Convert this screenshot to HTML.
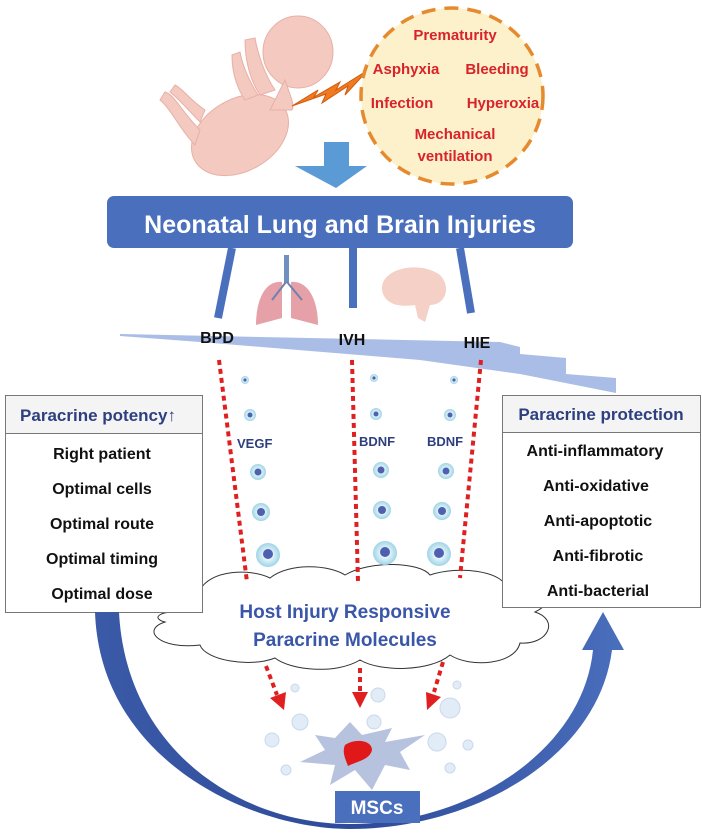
<!DOCTYPE html>
<html><head><meta charset="utf-8"><style>
html,body{margin:0;padding:0;background:#fff;}
svg{display:block;font-family:"Liberation Sans",sans-serif;}
.r{fill:#d8232a;font-weight:bold;font-size:15px;}
.k{fill:#111;font-weight:bold;font-size:16px;}
</style></head><body>
<svg width="702" height="835" viewBox="0 0 702 835" xmlns="http://www.w3.org/2000/svg">
<!-- fetus -->
<g fill="#f3c9c0" stroke="#e8b0a6" stroke-width="1">
<ellipse cx="298" cy="52" rx="35" ry="36"/>
<ellipse cx="240" cy="135" rx="52" ry="36" transform="rotate(-30 240 135)"/>
<path d="M200,130 C180,110 175,95 165,92 L160,100 C172,110 180,130 195,145 Z"/>
<path d="M205,110 C190,100 182,88 175,85 L170,92 C180,100 190,112 200,122 Z"/>
<path d="M260,95 C250,80 245,60 245,40 L255,38 C258,55 265,75 275,90 Z"/>
<path d="M245,100 C235,85 232,70 232,55 L240,52 C243,68 250,82 258,95 Z"/>
<path d="M285,80 C290,95 295,105 292,110 L270,110 Z"/>
</g>
<!-- lightning -->
<polygon points="292,106 318,90 314,97 340,82 336,90 368,70 345,95 348,86 322,103 326,94" fill="#f07a20" stroke="#d05a10" stroke-width="1"/>
<!-- circle -->
<ellipse cx="452" cy="96" rx="91" ry="88" fill="#fdf1cc" stroke="#e58a2e" stroke-width="3.5" stroke-dasharray="14 9"/>
<text class="r" x="455" y="40" text-anchor="middle">Prematurity</text>
<text class="r" x="406" y="74" text-anchor="middle">Asphyxia</text>
<text class="r" x="497" y="74" text-anchor="middle">Bleeding</text>
<text class="r" x="402" y="108" text-anchor="middle">Infection</text>
<text class="r" x="503" y="108" text-anchor="middle">Hyperoxia</text>
<text class="r" x="455" y="139" text-anchor="middle">Mechanical</text>
<text class="r" x="455" y="161" text-anchor="middle">ventilation</text>
<!-- down arrow -->
<polygon points="324,142 349,142 349,166 367,166 336,188 295,166 324,166" fill="#5b9bd5"/>
<!-- banner -->
<rect x="107" y="196" width="466" height="52" rx="7" fill="#4a6fbd"/>
<text x="340" y="233" text-anchor="middle" fill="#fff" font-weight="bold" font-size="25">Neonatal Lung and Brain Injuries</text>
<!-- legs -->
<g stroke="#4a6fbd" stroke-width="8"><line x1="232" y1="248" x2="218" y2="318"/><line x1="353" y1="248" x2="353" y2="308"/><line x1="460" y1="248" x2="471" y2="313"/></g>
<!-- lung -->
<g><rect x="284" y="255" width="5" height="28" fill="#7090c0"/>
<path d="M282,282 C265,280 256,300 256,325 L282,318 Z" fill="#e6a0a8"/>
<path d="M291,282 C308,280 318,300 318,325 L291,318 Z" fill="#e6a0a8"/>
<path d="M286,282 L272,300 M287,282 L302,300" stroke="#7080b0" stroke-width="2"/></g>
<!-- brain -->
<path d="M382,290 C380,268 420,260 440,275 C452,288 445,305 430,305 L425,322 L418,318 L415,305 C395,308 384,302 382,290Z" fill="#f4d0c6"/>
<!-- wedge -->
<polygon points="120,334 500,342 520,347 520,354 566,358 566,374 616,378 616,393 520,374 420,360 200,342 120,336" fill="#a9bde6"/>
<text class="k" x="217" y="343" text-anchor="middle" font-size="23">BPD</text>
<text class="k" x="352" y="345" text-anchor="middle" font-size="23">IVH</text>
<text class="k" x="477" y="348" text-anchor="middle" font-size="23">HIE</text>
<!-- cloud -->
<path d="M185,612 C150,605 155,585 200,590 C210,570 250,568 270,578 C290,562 330,565 345,575 C370,560 420,562 430,575 C460,565 500,572 505,585 C540,585 560,600 535,612 C560,620 548,645 520,643 C515,665 470,668 450,655 C430,672 380,672 360,660 C335,675 290,670 275,658 C250,668 205,660 200,645 C160,650 140,630 165,622 C150,618 160,610 185,612 Z" fill="#fff" stroke="#333" stroke-width="1"/>
<text x="345" y="618" text-anchor="middle" fill="#3a56a8" font-weight="bold" font-size="19">Host Injury Responsive</text>
<text x="345" y="646" text-anchor="middle" fill="#3a56a8" font-weight="bold" font-size="19">Paracrine Molecules</text>
<!-- red dotted -->
<g stroke="#e02020" stroke-width="4" stroke-dasharray="5 4" fill="none">
<line x1="219" y1="360" x2="247" y2="582"/><line x1="352" y1="360" x2="358" y2="582"/><line x1="481" y1="360" x2="460" y2="578"/>
<line x1="266" y1="666" x2="277" y2="695"/><line x1="360" y1="668" x2="360" y2="693"/><line x1="443" y1="662" x2="434" y2="692"/>
</g>
<g fill="#e02020"><polygon points="270,698 286,692 284,710"/><polygon points="352,692 368,692 360,708"/><polygon points="426,692 441,697 427,710"/></g>
<!-- cells -->
<defs><radialGradient id="c"><stop offset="0.35" stop-color="#e8f7fb"/><stop offset="1" stop-color="#9fd4e6"/></radialGradient></defs>
<g>
<circle cx="245" cy="380" r="4" fill="url(#c)"/><circle cx="245" cy="380" r="1.6" fill="#5060b0"/>
<circle cx="374" cy="378" r="4" fill="url(#c)"/><circle cx="374" cy="378" r="1.6" fill="#5060b0"/>
<circle cx="454" cy="380" r="4" fill="url(#c)"/><circle cx="454" cy="380" r="1.6" fill="#5060b0"/>
<circle cx="250" cy="415" r="6" fill="url(#c)"/><circle cx="250" cy="415" r="2.5" fill="#5060b0"/>
<circle cx="376" cy="414" r="6" fill="url(#c)"/><circle cx="376" cy="414" r="2.5" fill="#5060b0"/>
<circle cx="450" cy="415" r="6" fill="url(#c)"/><circle cx="450" cy="415" r="2.5" fill="#5060b0"/>
<circle cx="258" cy="472" r="8" fill="url(#c)"/><circle cx="258" cy="472" r="3.5" fill="#5060b0"/>
<circle cx="381" cy="470" r="8" fill="url(#c)"/><circle cx="381" cy="470" r="3.5" fill="#5060b0"/>
<circle cx="446" cy="471" r="8" fill="url(#c)"/><circle cx="446" cy="471" r="3.5" fill="#5060b0"/>
<circle cx="261" cy="512" r="9" fill="url(#c)"/><circle cx="261" cy="512" r="4" fill="#5060b0"/>
<circle cx="382" cy="510" r="9" fill="url(#c)"/><circle cx="382" cy="510" r="4" fill="#5060b0"/>
<circle cx="442" cy="511" r="9" fill="url(#c)"/><circle cx="442" cy="511" r="4" fill="#5060b0"/>
<circle cx="268" cy="555" r="12" fill="url(#c)"/><circle cx="268" cy="554" r="5" fill="#5060b0"/>
<circle cx="385" cy="553" r="12" fill="url(#c)"/><circle cx="385" cy="552" r="5" fill="#5060b0"/>
<circle cx="439" cy="554" r="12" fill="url(#c)"/><circle cx="439" cy="553" r="5" fill="#5060b0"/>
</g>
<g fill="#2e3f80" font-weight="bold" font-size="13"><text x="237" y="448">VEGF</text><text x="359" y="446">BDNF</text><text x="427" y="446">BDNF</text></g>
<!-- left box -->
<rect x="5.5" y="395.5" width="197" height="217" fill="#fff" stroke="#777"/>
<rect x="6" y="396" width="196" height="37" fill="#f4f4f4"/>
<line x1="6" y1="433.5" x2="202" y2="433.5" stroke="#777"/>
<text x="98" y="421" text-anchor="middle" fill="#2e3f80" font-weight="bold" font-size="17">Paracrine potency↑</text>
<g class="k" text-anchor="middle"><text x="102" y="459">Right patient</text><text x="102" y="494">Optimal cells</text><text x="102" y="529">Optimal route</text><text x="102" y="564">Optimal timing</text><text x="102" y="599">Optimal dose</text></g>
<!-- right box -->
<rect x="502.5" y="395.5" width="198" height="212" fill="#fff" stroke="#777"/>
<rect x="503" y="396" width="197" height="36" fill="#f4f4f4"/>
<line x1="503" y1="432.5" x2="700" y2="432.5" stroke="#777"/>
<text x="601" y="420" text-anchor="middle" fill="#2e3f80" font-weight="bold" font-size="17">Paracrine protection</text>
<g class="k" text-anchor="middle"><text x="595" y="456">Anti-inflammatory</text><text x="596" y="491">Anti-oxidative</text><text x="598" y="526">Anti-apoptotic</text><text x="598" y="561">Anti-fibrotic</text><text x="598" y="596">Anti-bacterial</text></g>
<!-- arc -->
<defs><linearGradient id="a" x1="0" x2="1"><stop offset="0" stop-color="#3a5aa8"/><stop offset="0.5" stop-color="#2e4a98"/><stop offset="1" stop-color="#4a6fbd"/></linearGradient></defs>
<path d="M95,612 C100,760 250,829 350,829 C470,829 598,760 612,650 L624,650 L603,612 L582,650 L593,650 C583,750 470,824 350,824 C240,824 126,750 119,612 Z" fill="url(#a)"/>
<!-- bubbles -->
<g fill="#e2ecf7" stroke="#c8d8ec" stroke-width="1">
<circle cx="295" cy="688" r="4"/><circle cx="378" cy="695" r="7"/><circle cx="457" cy="685" r="4"/><circle cx="300" cy="722" r="8"/><circle cx="374" cy="722" r="7"/><circle cx="450" cy="708" r="10"/><circle cx="272" cy="740" r="7"/><circle cx="437" cy="742" r="9"/><circle cx="468" cy="745" r="5"/><circle cx="286" cy="770" r="5"/><circle cx="450" cy="768" r="5"/>
</g>
<!-- MSC -->
<path d="M315,735 L335,738 L350,722 L362,735 L392,728 L385,742 L425,735 L400,752 L410,770 L385,765 L372,790 L355,770 L330,785 L335,765 L300,762 L325,750 Z" fill="#b7c2df"/>
<path d="M345,745 C355,738 372,740 372,750 C370,760 355,762 348,766 C345,758 342,752 345,745Z" fill="#e01818"/>
<rect x="335" y="791" width="85" height="32" fill="#4a6fbd"/>
<text x="377" y="814" text-anchor="middle" fill="#fff" font-weight="bold" font-size="19">MSCs</text>
</svg>
</body></html>
